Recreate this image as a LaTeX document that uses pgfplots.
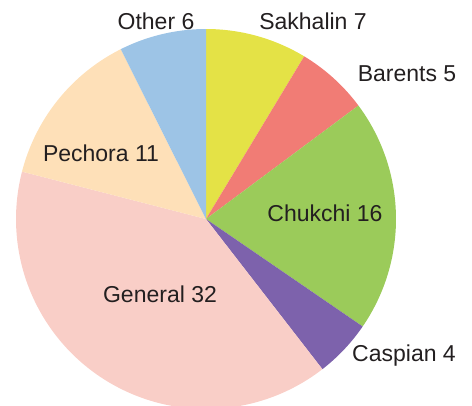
\documentclass[border=0pt]{standalone}
\usepackage{pgfplots}
\pgfplotsset{compat=1.18}
\usepackage{pgfplotstable}
\usepackage{fontspec}
\setmainfont{Liberation Sans}
\definecolor{csak}{HTML}{E4E246}
\definecolor{cbar}{HTML}{F17C75}
\definecolor{cchu}{HTML}{9BCB5A}
\definecolor{ccas}{HTML}{7D62AC}
\definecolor{cgen}{HTML}{F9CEC7}
\definecolor{cpec}{HTML}{FEE0B8}
\definecolor{coth}{HTML}{9DC4E6}
\definecolor{ctxt}{HTML}{231F20}
% shares of the pie
\pgfplotstableread{
name value
Sakhalin 7
Barents 5
Chukchi 16
Caspian 4
General 32
Pechora 11
Other 6
}\pietable
\def\vSak{7}\def\vBar{5}\def\vChu{16}\def\vCas{4}\def\vGen{32}\def\vPec{11}\def\vOth{6}
\pgfmathsetmacro\total{\vSak+\vBar+\vChu+\vCas+\vGen+\vPec+\vOth}
\pgfmathsetmacro\aA{90}
\pgfmathsetmacro\aB{\aA-360*\vSak/\total}
\pgfmathsetmacro\aC{\aB-360*\vBar/\total}
\pgfmathsetmacro\aD{\aC-360*\vChu/\total}
\pgfmathsetmacro\aE{\aD-360*\vCas/\total}
\pgfmathsetmacro\aF{\aE-360*\vGen/\total}
\pgfmathsetmacro\aG{\aF-360*\vPec/\total}
\pgfmathsetmacro\aH{\aG-360*\vOth/\total}
\def\cx{206}\def\cy{186}\def\rr{190}
\tikzset{lbl/.style={anchor=base, text=ctxt, font=\fontsize{23}{26}\selectfont, inner sep=0pt}}
\begin{document}
\begin{tikzpicture}
\begin{axis}[
  width=472pt, height=405pt, scale only axis,
  xmin=0, xmax=472, ymin=0, ymax=405,
  hide axis, clip=true,
]
\path (rel axis cs:0,0) rectangle (rel axis cs:1,1);
\addplot[fill=csak, draw=none, domain=\aB:\aA, samples=80] ({\cx+\rr*cos(x)},{\cy+\rr*sin(x)}) -- (axis cs:\cx,\cy) -- cycle;
\addplot[fill=cbar, draw=none, domain=\aC:\aB, samples=80] ({\cx+\rr*cos(x)},{\cy+\rr*sin(x)}) -- (axis cs:\cx,\cy) -- cycle;
\addplot[fill=cchu, draw=none, domain=\aD:\aC, samples=80] ({\cx+\rr*cos(x)},{\cy+\rr*sin(x)}) -- (axis cs:\cx,\cy) -- cycle;
\addplot[fill=ccas, draw=none, domain=\aE:\aD, samples=80] ({\cx+\rr*cos(x)},{\cy+\rr*sin(x)}) -- (axis cs:\cx,\cy) -- cycle;
\addplot[fill=cgen, draw=none, domain=\aF:\aE, samples=120] ({\cx+\rr*cos(x)},{\cy+\rr*sin(x)}) -- (axis cs:\cx,\cy) -- cycle;
\addplot[fill=cpec, draw=none, domain=\aG:\aF, samples=80] ({\cx+\rr*cos(x)},{\cy+\rr*sin(x)}) -- (axis cs:\cx,\cy) -- cycle;
\addplot[fill=coth, draw=none, domain=\aH:\aG, samples=80] ({\cx+\rr*cos(x)},{\cy+\rr*sin(x)}) -- (axis cs:\cx,\cy) -- cycle;
\node[lbl] at (axis cs:156,375) {Other 6};
\node[lbl] at (axis cs:313,375) {Sakhalin 7};
\node[lbl] at (axis cs:407,323) {Barents 5};
\node[lbl] at (axis cs:325,183) {Chukchi 16};
\node[lbl] at (axis cs:404,43) {Caspian 4};
\node[lbl] at (axis cs:101,243) {Pechora 11};
\node[lbl] at (axis cs:160,103) {General 32};
\end{axis}
\end{tikzpicture}
\end{document}
